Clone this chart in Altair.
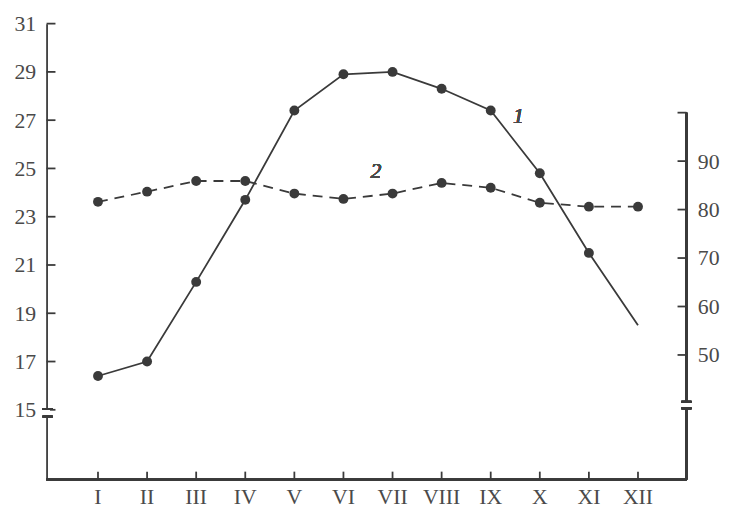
import altair as alt
import pandas as pd

# ---- data ----
months = ["I", "II", "III", "IV", "V", "VI", "VII", "VIII", "IX", "X", "XI", "XII"]
month_num = list(range(1, 13))
temperature = [16.4, 17.0, 20.3, 23.7, 27.4, 28.9, 29.0, 28.3, 27.4, 24.8, 21.5, 18.5]
humidity = [81.6, 83.7, 85.9, 85.9, 83.3, 82.2, 83.3, 85.5, 84.5, 81.4, 80.6, 80.6]
left_ticks = [15, 17, 19, 21, 23, 25, 27, 29, 31]
right_labels = [50, 60, 70, 80, 90]
right_ticks = [50, 60, 70, 80, 90, 100]

W, H = 647, 461
INK = "#3a3a3a"
TXT = "#4a4a4a"
FONT = "Liberation Serif"

xs = alt.Scale(domain=[-0.0475, 12.987], nice=False, zero=False)
ysL = alt.Scale(domain=[12.11, 31], nice=False, zero=False)
ysR = alt.Scale(domain=[24.29, 118.37], nice=False, zero=False)

df = pd.DataFrame({"m": month_num, "name": months, "t": temperature, "h": humidity})

yL_axis = alt.Axis(orient="left", values=left_ticks, ticks=False, domain=True,
                   domainColor=INK, domainWidth=1.8, labelFont=FONT, labelFontSize=22,
                   labelColor=TXT, labelPadding=11, grid=False, title=None, labelFlush=False)
yR_axis = alt.Axis(orient="right", values=right_labels, ticks=False, domain=False,
                   labelFont=FONT, labelFontSize=22, labelColor=TXT, labelPadding=11,
                   grid=False, title=None, labelFlush=False)

X = alt.X("m:Q", scale=xs, axis=None)


def YL(v):
    return alt.YDatum(v, scale=ysL, axis=None)


def YR(v):
    return alt.YDatum(v, scale=ysR, axis=None)


base = alt.Chart(df)

# ---- x axis drawn by hand (line, inward ticks, roman labels) ----
x_dom = base.mark_rule(color=INK, strokeWidth=1.8).encode(
    x=alt.value(0), x2=alt.value(W), y=alt.value(H))
xt = base.mark_rule(color=INK, strokeWidth=1.8).encode(x=X, y=alt.value(H), y2=alt.value(H - 8))
x_lab = base.mark_text(font=FONT, fontSize=22, color=TXT, baseline="middle").encode(
    x=X, y=alt.value(H + 18), text="name:N")

# ---- temperature (left scale) ----
temp_line = base.mark_line(color=INK, strokeWidth=1.8).encode(
    x=X, y=alt.Y("t:Q", scale=ysL, axis=yL_axis))
temp_pts = base.transform_filter("datum.m < 12").mark_circle(size=100, color=INK, opacity=1).encode(
    x=X, y=alt.Y("t:Q", scale=ysL, axis=None))
lt = alt.Chart(pd.DataFrame({"v": left_ticks})).mark_rule(color=INK, strokeWidth=1.8).encode(
    y=alt.Y("v:Q", scale=ysL, axis=None), x=alt.value(0), x2=alt.value(9))
l_gap = alt.Chart(df).mark_rule(color="white", strokeWidth=6).encode(
    x=alt.value(0), y=YL(14.98), y2=alt.Y2Datum(14.78))
l_b1 = alt.Chart(df).mark_rule(color=INK, strokeWidth=1.8).encode(
    y=YL(15.03), x=alt.value(-4), x2=alt.value(6))
l_b2 = alt.Chart(df).mark_rule(color=INK, strokeWidth=1.8).encode(
    y=YL(14.72), x=alt.value(-4), x2=alt.value(6))
lab1 = alt.Chart(df).mark_text(font=FONT, fontStyle="italic", fontSize=22, color=TXT).encode(
    x=alt.value(477), y=alt.value(93), text=alt.value("1"))
lab2 = alt.Chart(df).mark_text(font=FONT, fontStyle="italic", fontSize=22, color=TXT).encode(
    x=alt.value(333), y=alt.value(149), text=alt.value("2"))

# ---- humidity (right scale) ----
hum_line = base.mark_line(color=INK, strokeWidth=1.8, strokeDash=[10, 7]).encode(
    x=X, y=alt.Y("h:Q", scale=ysR, axis=yR_axis))
hum_pts = base.mark_circle(size=100, color=INK, opacity=1).encode(
    x=X, y=alt.Y("h:Q", scale=ysR, axis=None))
r_line = alt.Chart(df).mark_rule(color=INK, strokeWidth=1.8).encode(
    x=alt.value(W), y=YR(100), y2=alt.value(H))
rt = alt.Chart(pd.DataFrame({"v": right_ticks})).mark_rule(color=INK, strokeWidth=1.8).encode(
    y=alt.Y("v:Q", scale=ysR, axis=None), x=alt.value(W - 9), x2=alt.value(W))
r_gap = alt.Chart(df).mark_rule(color="white", strokeWidth=6).encode(
    x=alt.value(W), y=YR(40.1), y2=alt.Y2Datum(39.2))
r_b1 = alt.Chart(df).mark_rule(color=INK, strokeWidth=1.8).encode(
    y=YR(40.35), x=alt.value(W - 5), x2=alt.value(W + 5))
r_b2 = alt.Chart(df).mark_rule(color=INK, strokeWidth=1.8).encode(
    y=YR(38.98), x=alt.value(W - 5), x2=alt.value(W + 5))

chart = alt.layer(
    x_dom, xt, x_lab,
    temp_line, temp_pts, lt, l_gap, l_b1, l_b2, lab1, lab2,
    hum_line, hum_pts, r_line, rt, r_gap, r_b1, r_b2,
).resolve_scale(y="independent").properties(
    width=W, height=H,
    padding={"left": 39, "top": 13, "right": 40, "bottom": 30},
    autosize=alt.AutoSizeParams(type="none"),
    background="white",
).configure_view(stroke=None)

chart.save("out.html", embed_options={"renderer": "svg", "actions": False})
